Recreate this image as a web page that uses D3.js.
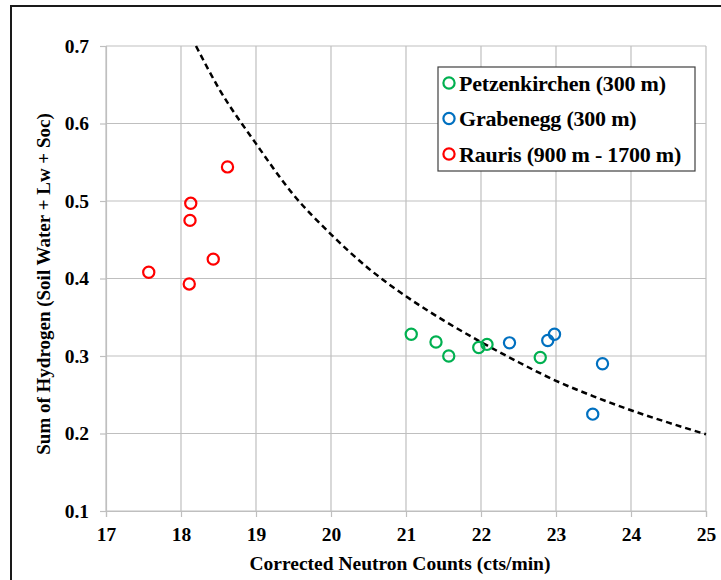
<!DOCTYPE html>
<html>
<head>
<meta charset="utf-8">
<script src="https://cdn.jsdelivr.net/npm/d3@7"></script>
<style>
  body { margin: 0; background: #fff; }
  svg { display: block; }
  text { font-family: "Liberation Serif", "Times New Roman", serif; font-weight: bold; fill: #000; }
</style>
</head>
<body>
<svg id="chart"></svg>
<script>
// data
var xTicks = [17, 18, 19, 20, 21, 22, 23, 24, 25];
var yTicks = [0.1, 0.2, 0.3, 0.4, 0.5, 0.6, 0.7];

var petzX = [21.07, 21.40, 21.57, 21.97, 22.08, 22.79];
var petzY = [0.328, 0.318, 0.300, 0.311, 0.315, 0.298];

var grabX = [22.38, 22.89, 22.98, 23.62, 23.49];
var grabY = [0.317, 0.320, 0.328, 0.290, 0.225];

var raurisX = [17.57, 18.13, 18.12, 18.62, 18.43, 18.11];
var raurisY = [0.408, 0.497, 0.475, 0.544, 0.425, 0.393];

// dashed curve, points
var curveX = [18.2, 18.5, 19.0, 19.5, 20.0, 20.5, 21.0, 21.5, 22.0, 22.5, 23.0, 23.5, 24.0, 24.5, 25.0];
var curveY = [0.700, 0.646, 0.574, 0.508, 0.457, 0.413, 0.377, 0.346, 0.318, 0.292, 0.268, 0.248, 0.230, 0.214, 0.199];

var seriesNames = ["Petzenkirchen (300 m)", "Grabenegg (300 m)", "Rauris (900 m - 1700 m)"];
var seriesColors = ["#00b050", "#0070c0", "#ff0000"];

var series = [
  {x: petzX, y: petzY},
  {x: grabX, y: grabY},
  {x: raurisX, y: raurisY}
];

//measurements
var screen = {width: 721, height: 580};
var margins = {top: 46, left: 106, right: 15, bottom: 69};
var width = screen.width - margins.left - margins.right;
var height = screen.height - margins.top - margins.bottom;

var svg = d3.select("#chart")
            .attr("width", screen.width)
            .attr("height", screen.height);

// outer frame
svg.append("rect")
   .attr("x", 11).attr("y", 6)
   .attr("width", 760).attr("height", 620)
   .attr("fill", "none")
   .attr("stroke", "#1a1a1a")
   .attr("stroke-width", 2);

var g = svg.append("g")
           .attr("transform", "translate(" + margins.left + "," + margins.top + ")");

//scales
var xScale = d3.scaleLinear().domain([17, 25]).range([0, width]);
var yScale = d3.scaleLinear().domain([0.1, 0.7]).range([height, 0]);

//grid
g.append("g").selectAll("line")
 .data(xTicks).enter().append("line")
 .attr("x1", function(d){return xScale(d)})
 .attr("x2", function(d){return xScale(d)})
 .attr("y1", 0).attr("y2", height)
 .attr("stroke", "#bfbfbf").attr("stroke-width", 1.2);

g.append("g").selectAll("line")
 .data(yTicks).enter().append("line")
 .attr("y1", function(d){return yScale(d)})
 .attr("y2", function(d){return yScale(d)})
 .attr("x1", 0).attr("x2", width)
 .attr("stroke", "#bfbfbf").attr("stroke-width", 1.2);

//axes
var xAxis = g.append("g")
             .attr("transform", "translate(0," + height + ")")
             .call(d3.axisBottom(xScale).tickValues(xTicks).tickFormat(d3.format("d")).tickSize(6).tickPadding(10));
var yAxis = g.append("g")
             .call(d3.axisLeft(yScale).tickValues(yTicks).tickFormat(d3.format(".1f")).tickSize(6).tickPadding(11));

[xAxis, yAxis].forEach(function(ax){
  ax.select(".domain").attr("stroke", "#bfbfbf").attr("stroke-width", 1.2);
  ax.selectAll(".tick line").attr("stroke", "#bfbfbf").attr("stroke-width", 1.2);
  ax.selectAll(".tick text")
    .attr("fill", "#000")
    .style("font-family", '"Liberation Serif", "Times New Roman", serif')
    .style("font-weight", "bold")
    .style("font-size", "19.5px");
});

//axis titles
svg.append("text")
   .attr("x", margins.left + width / 2 - 6)
   .attr("y", 570)
   .attr("text-anchor", "middle")
   .style("font-size", "19.5px")
   .text("Corrected Neutron Counts (cts/min)");

svg.append("text")
   .attr("transform", "translate(50," + 284 + ")rotate(-90)")
   .attr("text-anchor", "middle")
   .style("font-size", "19px")
   .text("Sum of Hydrogen (Soil Water + Lw + Soc)");

//dashed curve
var curvePts = curveX.map(function(x, i){return [x, curveY[i]]});
g.append("path")
 .datum(curvePts)
 .attr("d", d3.line()
              .x(function(d){return xScale(d[0])})
              .y(function(d){return yScale(d[1])})
              .curve(d3.curveMonotoneX))
 .attr("fill", "none")
 .attr("stroke", "#000")
 .attr("stroke-width", 2.5)
 .attr("stroke-dasharray", "6,4");

//points
series.forEach(function(s, k){
  var pts = s.x.map(function(x, i){return [x, s.y[i]]});
  g.append("g").selectAll("circle")
   .data(pts).enter().append("circle")
   .attr("cx", function(d){return xScale(d[0])})
   .attr("cy", function(d){return yScale(d[1])})
   .attr("r", 5.6)
   .attr("fill", "none")
   .attr("stroke", seriesColors[k])
   .attr("stroke-width", 2.2);
});

//legend
var legend = svg.append("g").attr("transform", "translate(438,67)");
legend.append("rect")
      .attr("width", 257).attr("height", 104)
      .attr("fill", "#fff")
      .attr("stroke", "#404040")
      .attr("stroke-width", 1.2);

var rows = legend.selectAll("g.row")
                 .data(seriesNames).enter().append("g")
                 .attr("class", "row")
                 .attr("transform", function(d, i){return "translate(0," + (16 + i * 35.5) + ")"});
rows.append("circle")
    .attr("cx", 11).attr("cy", 0).attr("r", 5.6)
    .attr("fill", "none")
    .attr("stroke", function(d, i){return seriesColors[i]})
    .attr("stroke-width", 2.2);
rows.append("text")
    .attr("x", 21).attr("y", 7.5)
    .style("font-size", "22px")
    .style("letter-spacing", "-0.2px")
    .text(function(d){return d});
</script>
</body>
</html>
